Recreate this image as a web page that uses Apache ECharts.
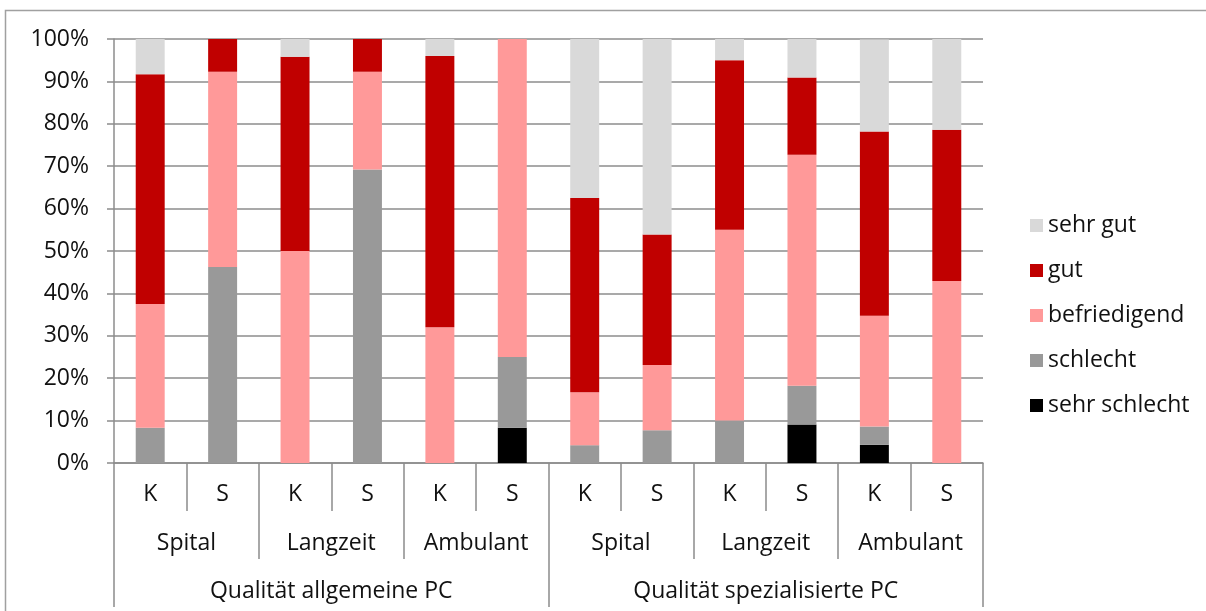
<!DOCTYPE html>
<html>
<head>
<meta charset="utf-8">
<script src="https://cdn.jsdelivr.net/npm/echarts@6/dist/echarts.min.js"></script>
<style>
    html, body { margin: 0; padding: 0; background: #fff; }
    #qualityChart { width: 1206px; height: 611px; }
</style>
</head>
<body>
<div id="qualityChart"></div>
<script>
// Kategorien (drei Ebenen)
var subCategories = ['K', 'S', 'K', 'S', 'K', 'S', 'K', 'S', 'K', 'S', 'K', 'S'];
var settings = ['Spital', 'Langzeit', 'Ambulant', 'Spital', 'Langzeit', 'Ambulant'];
var groups = ['Qualität allgemeine PC', 'Qualität spezialisierte PC'];

// Werte in Prozent
var sehrSchlecht = [0, 0, 0, 0, 0, 8.3, 0, 0, 0, 9.1, 4.3, 0];
var schlecht = [8.3, 46.2, 0, 69.2, 0, 16.7, 4.2, 7.7, 10, 9.1, 4.3, 0];
var befriedigend = [29.2, 46.1, 50, 23.1, 32, 75, 12.5, 15.4, 45, 54.5, 26.1, 42.9];
var gut = [54.2, 7.7, 45.8, 7.7, 64, 0, 45.8, 30.8, 40, 18.2, 43.5, 35.7];
var sehrGut = [8.3, 0, 4.2, 0, 4, 0, 37.5, 46.1, 5, 9.1, 21.7, 21.4];

var legendNames = ['sehr gut', 'gut', 'befriedigend', 'schlecht', 'sehr schlecht'];

var fontName = 'Open Sans';
var fontSize = 23;
var textColor = '#111';
var lineColor = '#8c8c8c';

function makeSeries(name, values, color) {
    return {
        name: name,
        type: 'bar',
        stack: 'total',
        barWidth: '40%',
        xAxisIndex: 0,
        data: values,
        itemStyle: { color: color }
    };
}

// gemeinsame Ticks fuer die drei Ebenen der x-Achse
function levelTick() {
    return { show: true, length: 48, interval: 0, lineStyle: { color: lineColor, width: 1.5 } };
}

var qualityChart = echarts.init(document.getElementById('qualityChart'));
var qualityOption = {
    animation: false,
    textStyle: { fontFamily: fontName },
    grid: { left: 114, right: 223, top: 39, bottom: 148 },
    legend: {
        data: legendNames,
        orient: 'vertical',
        left: 1025,
        top: 209,
        itemWidth: 13,
        itemHeight: 13,
        itemGap: 22,
        icon: 'rect',
        textStyle: { fontFamily: fontName, fontSize: fontSize, color: textColor }
    },
    // Rahmen oben und links
    graphic: [{
        type: 'polyline',
        shape: { points: [[5.5, 611], [5.5, 10.5], [1206, 10.5]] },
        style: { stroke: '#a0a0a0', lineWidth: 1.5, fill: null },
        silent: true
    }],
    xAxis: [{
        type: 'category',
        data: subCategories,
        axisLine: { lineStyle: { color: lineColor, width: 1.5 } },
        axisTick: levelTick(),
        axisLabel: { margin: 20, fontSize: fontSize, color: textColor, interval: 0 }
    }, {
        type: 'category',
        position: 'bottom',
        offset: 48,
        data: settings,
        axisLine: { show: false },
        axisTick: levelTick(),
        axisLabel: { margin: 21, fontSize: fontSize, color: textColor, interval: 0 }
    }, {
        type: 'category',
        position: 'bottom',
        offset: 96,
        data: groups,
        axisLine: { show: false },
        axisTick: levelTick(),
        axisLabel: { margin: 21, fontSize: fontSize, color: textColor, interval: 0 }
    }],
    yAxis: {
        type: 'value',
        min: 0,
        max: 100,
        interval: 10,
        axisLine: { show: true, lineStyle: { color: lineColor, width: 1.5 } },
        axisTick: { show: true, length: 7, lineStyle: { color: lineColor, width: 1.5 } },
        splitLine: { lineStyle: { color: lineColor, width: 1.5 } },
        axisLabel: { margin: 25, fontSize: fontSize, color: textColor, formatter: '{value}%' }
    },
    series: [
        makeSeries('sehr schlecht', sehrSchlecht, '#000000'),
        makeSeries('schlecht', schlecht, '#999999'),
        makeSeries('befriedigend', befriedigend, '#ff9999'),
        makeSeries('gut', gut, '#c00000'),
        makeSeries('sehr gut', sehrGut, '#d9d9d9')
    ]
};
qualityChart.setOption(qualityOption);
</script>
</body>
</html>
